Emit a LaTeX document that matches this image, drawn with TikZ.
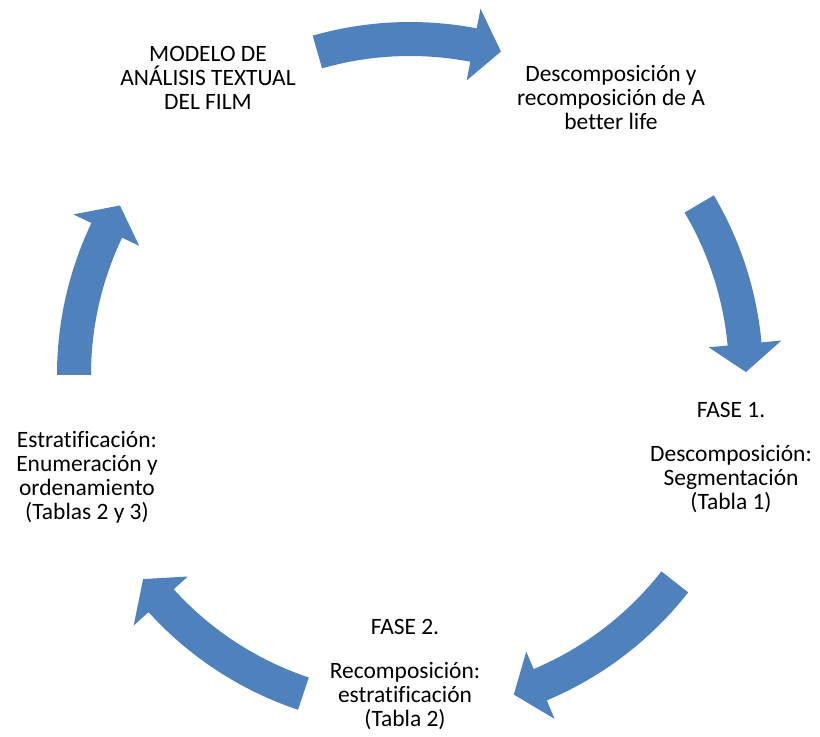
\documentclass[tikz,border=0pt]{standalone}
\usepackage{fontspec}
\setmainfont{Carlito}[Ligatures=CommonOff]
\definecolor{cycleblue}{RGB}{79,129,189}
\tikzset{
  label/.style={align=center, inner sep=0pt, font=\fontsize{17.6}{18}\selectfont},
  bigarrow/.style={fill=cycleblue}
}
\begin{document}
\begin{tikzpicture}[x=0.75pt, y=0.75pt]
        \useasboundingbox (0,0) rectangle (820,736);

        \node[label] (modelo) at (208,658) {MODELO DE\\AN\'ALISIS TEXTUAL\\DEL FILM};
        \node[label] (descomp) at (611,638) {Descomposici\'on y\\recomposici\'on de A\\better life};
        \node[label] (fase1) at (731,278) {FASE 1.\\[15pt]Descomposici\'on:\\Segmentaci\'on\\(Tabla 1)};
        \node[label] (fase2) at (405,61) {FASE 2.\\[15pt]Recomposici\'on:\\estratificaci\'on\\(Tabla 2)};
        \node[label] (estrat) at (87,259) {Estratificaci\'on:\\Enumeraci\'on y\\ordenamiento\\(Tablas 2 y 3)};

        \begin{scope}[shift={(410,361)}]
            \foreach \tail / \tip in {106/74.3, 30.6/0.5, -38/-72, -108.5/-142.6, 180/149.7}
                \fill[bigarrow] (\tail:353) arc[start angle=\tail, end angle=\tip+4.8, radius=353]
                    -- ({\tip+4.8}:373) -- (\tip:336) -- ({\tip+4.8}:300) -- ({\tip+4.8}:319)
                    arc[start angle=\tip+4.8, end angle=\tail, radius=319] -- cycle;
        \end{scope}
    \end{tikzpicture}
\end{document}
